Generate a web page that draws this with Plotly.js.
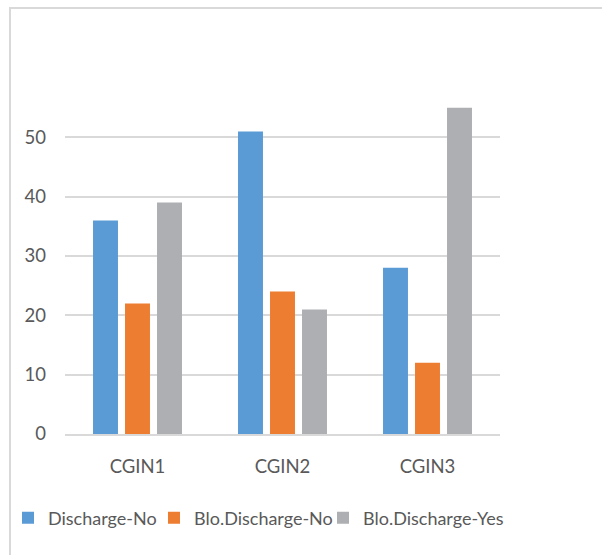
<!DOCTYPE html>
<html><head><meta charset="utf-8">
<script src="https://cdn.plot.ly/plotly-3.0.1.min.js"></script>
<style>body{margin:0;background:#fff}#c{width:602px;height:555px}</style>
</head><body><div id="c"></div>
<script>
var categories = ["CGIN1", "CGIN2", "CGIN3"];
var dischargeNo = [36, 51, 28];
var bloDischargeNo = [22, 24, 12];
var bloDischargeYes = [39, 21, 55];
var yTicks = [0, 10, 20, 30, 40, 50];

var fam = "Lato, Open Sans, sans-serif";
var font = {family: fam, size: 18.5, color: "#595959"};
var data = [
  {type: "bar", name: "Discharge-No", x: categories, y: dischargeNo, marker: {color: "#5B9BD5"}, legend: "legend"},
  {type: "bar", name: "Blo.Discharge-No", x: categories, y: bloDischargeNo, marker: {color: "#ED7D31"}, legend: "legend2"},
  {type: "bar", name: "Blo.Discharge-Yes", x: categories, y: bloDischargeYes, marker: {color: "#AEAFB2"}, legend: "legend3"}
];
function leg(px) {
  return {orientation: "h", xref: "container", yref: "container", x: px / 602, xanchor: "left",
          y: (555 - 518) / 555, yanchor: "middle", bgcolor: "rgba(0,0,0,0)",
          font: {family: fam, size: 18, color: "#595959"}, itemwidth: 30};
}
var layout = {
  width: 602, height: 555,
  margin: {l: 65, r: 102, t: 78, b: 121},
  paper_bgcolor: "#fff", plot_bgcolor: "#fff",
  barmode: "group", bargap: 0.338, bargroupgap: 0.22,
  font: font,
  showlegend: true,
  legend: leg(8), legend2: leg(154), legend3: leg(323),
  xaxis: {showgrid: false, showline: true, linecolor: "#D9D9D9", linewidth: 1.5, ticks: "", tickfont: font,
          ticklabelstandoff: 15},
  yaxis: {range: [0, 60], tickvals: yTicks, gridcolor: "#D9D9D9", gridwidth: 1.5, zeroline: false, showline: false,
          ticks: "", tickfont: font, ticklabelstandoff: 18},
  shapes: [{type: "rect", xref: "paper", yref: "paper", x0: -0.1264, x1: 1.4, y0: -0.5, y1: 1.1966,
            line: {color: "#D9D9D9", width: 2}, fillcolor: "rgba(0,0,0,0)"}]
};
Plotly.newPlot("c", data, layout, {displayModeBar: false});
</script></body></html>
